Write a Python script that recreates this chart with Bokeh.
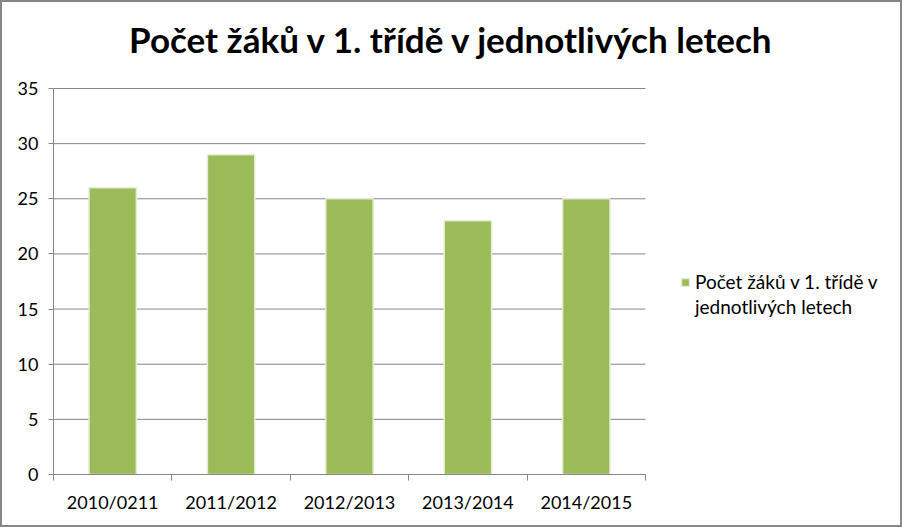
from bokeh.plotting import figure
from bokeh.models import Range1d, FixedTicker, Legend, LegendItem, Label
from bokeh.embed import file_html
from bokeh.resources import INLINE

categories = ["2010/0211", "2011/2012", "2012/2013", "2013/2014", "2014/2015"]
values = [26, 29, 25, 23, 25]
series_lines = ["Počet žáků v 1. třídě v", "jednotlivých letech"]
title_text = "Počet žáků v 1. třídě v jednotlivých letech"
y_ticks = [0, 5, 10, 15, 20, 25, 30, 35]

FONT = "Lato"
GRID = "#868686"

n = len(categories)
centers = [i + 0.5 for i in range(n)]
bounds = list(range(n + 1))
y_max = y_ticks[-1]

# canvas geometry (canvas is offset by the 2px border)
W, H = 902, 527
LEFT, BOTTOM = 51, 55
FRAME_W = W - LEFT
FRAME_H = H - BOTTOM
CAT_PX = 592 / n          # width of one category
VAL_PX = 386 / y_max      # pixels per unit on the value axis
x_end = FRAME_W / CAT_PX
y_end = FRAME_H / VAL_PX

p = figure(width=W, height=H, output_backend="svg", toolbar_location=None,
           title_location=None,
           x_range=Range1d(0, x_end), y_range=Range1d(0, y_end),
           min_border_left=LEFT, min_border_right=0, min_border_top=0, min_border_bottom=BOTTOM)
p.styles = {"border": "2px solid #868686"}
p.outline_line_color = None
p.background_fill_color = "white"
p.border_fill_color = "white"

# horizontal gridlines limited to the category area
p.segment(x0=[0] * len(y_ticks), x1=[n] * len(y_ticks), y0=y_ticks, y1=y_ticks,
          line_color=GRID, line_width=1)

r = p.vbar(x=centers, top=values, width=0.4, fill_color="#9BBB59",
           line_color="#E4ECD2", line_width=1.5)
dummy = p.vbar(x=[], top=[], width=0.4, fill_alpha=0, line_alpha=0)

# axes
p.xaxis.bounds = (0, n)
p.xaxis.ticker = FixedTicker(ticks=centers, minor_ticks=bounds)
p.xaxis.major_label_overrides = {c: lab for c, lab in zip(centers, categories)}
p.xaxis.major_tick_out = 0
p.xaxis.major_tick_in = 0
p.xaxis.minor_tick_out = 6
p.xaxis.minor_tick_in = 0
p.xaxis.minor_tick_line_color = GRID
p.xaxis.axis_line_color = GRID
p.xaxis.major_label_standoff = 10

p.yaxis.bounds = (0, y_max)
p.yaxis.ticker = FixedTicker(ticks=y_ticks)
p.yaxis.major_tick_out = 5
p.yaxis.major_tick_in = 0
p.yaxis.minor_tick_line_color = None
p.yaxis.major_tick_line_color = GRID
p.yaxis.axis_line_color = GRID
p.yaxis.major_label_standoff = 10

for ax in (p.xaxis, p.yaxis):
    ax.major_label_text_font = FONT
    ax.major_label_text_font_size = "18px"
    ax.major_label_text_color = "#000000"

p.xgrid.grid_line_color = None
p.ygrid.grid_line_color = None

# title (inside the extended frame, above the value area)
p.add_layout(Label(x=398.5, y=FRAME_H - 36, x_units="screen", y_units="screen",
                   text=title_text, text_font=FONT, text_font_style="bold",
                   text_font_size="35px", text_align="center",
                   text_baseline="alphabetic", text_color="#000000"))

legend = Legend(items=[LegendItem(label=series_lines[0], renderers=[r]),
                       LegendItem(label=series_lines[1], renderers=[dummy])],
                location=(627, 156), orientation="vertical",
                label_text_font=FONT, label_text_font_size="19px",
                label_text_color="#000000", glyph_width=10, glyph_height=10,
                label_standoff=5, label_height=20, spacing=2,
                border_line_color=None, background_fill_alpha=0,
                margin=0, padding=0)
p.add_layout(legend)

open("out.html", "w").write(file_html(p, INLINE))
